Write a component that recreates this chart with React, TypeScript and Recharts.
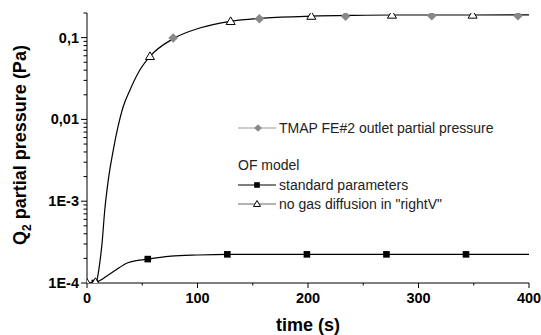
import { LineChart, Line, XAxis, YAxis } from 'recharts';

// time (s) and Q2 partial pressure (Pa)
const noDiffTime = [0, 7.6, 8.5, 11.5, 13.6, 16, 19, 23.6, 28, 32.6, 38.7, 47.7, 57, 78, 102, 130, 160, 203, 240, 276, 349, 400];
const noDiffValues = [1e-4, 1.02e-4, 1.04e-4, 1.74e-4, 3.05e-4, 7.6e-4, 1.71e-3, 4.1e-3, 8.1e-3, 0.0141, 0.0226, 0.0399, 0.059, 0.097, 0.131, 0.158, 0.173, 0.183, 0.187, 0.189, 0.189, 0.19];
const noDiffMarkers = [0, 7.6, 57, 130, 203, 276, 349];

const stdTime = [0, 7, 11.5, 18, 25, 37, 55, 76, 100, 127, 199, 271, 343, 400];
const stdValues = [1e-4, 1e-4, 1.07e-4, 1.22e-4, 1.41e-4, 1.77e-4, 1.96e-4, 2.13e-4, 2.2e-4, 2.24e-4, 2.24e-4, 2.24e-4, 2.24e-4, 2.24e-4];
const stdMarkers = [7, 55, 127, 199, 271, 343];

const tmapTime = [78, 156, 234, 312, 390];
const tmapValues = [0.099, 0.17, 0.183, 0.185, 0.185];

const xTicks = [0, 50, 100, 150, 200, 250, 300, 350, 400];
const yTicks = [
  1e-4, 2e-4, 3e-4, 4e-4, 5e-4, 6e-4, 7e-4, 8e-4, 9e-4,
  1e-3, 2e-3, 3e-3, 4e-3, 5e-3, 6e-3, 7e-3, 8e-3, 9e-3,
  0.01, 0.02, 0.03, 0.04, 0.05, 0.06, 0.07, 0.08, 0.09,
  0.1, 0.2,
];
const yLabels: Record<string, string> = { '-4': '1E-4', '-3': '1E-3', '-2': '0,01', '-1': '0,1' };

const noDiff = noDiffTime.map((t, i) => ({ t, v: noDiffValues[i], m: noDiffMarkers.includes(t) }));
const std = stdTime.map((t, i) => ({ t, v: stdValues[i], m: stdMarkers.includes(t) }));
const tmap = tmapTime.map((t, i) => ({ t, v: tmapValues[i], m: true }));

const FONT = 'Liberation Sans, Arial, sans-serif';

const XTick = (props: any) => {
  const { x, y, payload } = props;
  const major = payload.value % 100 === 0;
  return (
    <g>
      <line x1={x} x2={x} y1={y} y2={y + (major ? 5 : 2.5)} stroke="#000" />
      {major && (
        <text x={x} y={y + 20} textAnchor="middle" fontFamily={FONT} fontWeight="bold" fontSize={14.5} fill="#000">
          {payload.value}
        </text>
      )}
    </g>
  );
};

const YTick = (props: any) => {
  const { x, y, payload } = props;
  const lg = Math.log10(payload.value);
  const major = Math.abs(lg - Math.round(lg)) < 1e-6;
  return (
    <g>
      <line x1={x} x2={x - (major ? 6 : 3.5)} y1={y} y2={y} stroke="#000" />
      {major && (
        <text x={x - 8} y={y + 5} textAnchor="end" fontFamily={FONT} fontWeight="bold" fontSize={14.5} fill="#000">
          {yLabels[String(Math.round(lg))]}
        </text>
      )}
    </g>
  );
};

const Triangle = ({ cx, cy, r = 4.5 }: any) => (
  <path d={`M${cx},${cy - r}L${cx + r},${cy + r * 0.7}L${cx - r},${cy + r * 0.7}Z`} fill="#fff" stroke="#000" strokeWidth={1} />
);
const Square = ({ cx, cy, r = 3.3 }: any) => <rect x={cx - r} y={cy - r} width={2 * r} height={2 * r} fill="#000" />;
const Diamond = ({ cx, cy, r = 4.8 }: any) => (
  <path d={`M${cx},${cy - r}L${cx + r},${cy}L${cx},${cy + r}L${cx - r},${cy}Z`} fill="#888" />
);

const dotOf = (Shape: any) => (p: any) =>
  p.payload.m ? <Shape key={`d-${p.index}`} cx={p.cx} cy={p.cy} /> : <g key={`d-${p.index}`} />;

export default function App() {
  return (
    <div style={{ position: 'absolute', left: 0, top: 0, width: 541, height: 335, background: '#fff' }}>
      <LineChart width={541} height={335} margin={{ top: 13, right: 12, left: 0, bottom: 22 }}>
        <XAxis
          type="number"
          dataKey="t"
          domain={[0, 400]}
          ticks={xTicks}
          interval={0}
          tickSize={0}
          tickMargin={0}
          tickLine={false}
          tick={<XTick />}
          height={30}
          axisLine={{ stroke: '#000' }}
          allowDataOverflow
        />
        <YAxis
          type="number"
          scale="log"
          domain={[1e-4, 0.2]}
          ticks={yTicks}
          interval={0}
          tickSize={0}
          tickMargin={0}
          tickLine={false}
          tick={<YTick />}
          width={87}
          axisLine={{ stroke: '#000' }}
          allowDataOverflow
        />
        <Line data={std} dataKey="v" type="monotone" stroke="#000" strokeWidth={1.2} dot={dotOf(Square)} isAnimationActive={false} />
        <Line data={noDiff} dataKey="v" type="monotone" stroke="#000" strokeWidth={1.2} dot={dotOf(Triangle)} isAnimationActive={false} />
        <Line data={tmap} dataKey="v" type="monotone" stroke="none" dot={dotOf(Diamond)} isAnimationActive={false} />
      </LineChart>
      <svg width={541} height={335} style={{ position: 'absolute', left: 0, top: 0, pointerEvents: 'none' }}>
        <text
          transform="translate(26,145) rotate(-90)"
          textAnchor="middle"
          fontFamily={FONT}
          fontWeight="bold"
          fontSize={18}
          fill="#000"
        >
          Q<tspan fontSize={12} dy={5}>2</tspan>
          <tspan dy={-5}> partial pressure (Pa)</tspan>
        </text>
        <text x={308} y={331} textAnchor="middle" fontFamily={FONT} fontWeight="bold" fontSize={18} fill="#000">
          time (s)
        </text>
        <g fontFamily={FONT} fontSize={14} fill="#222">
          <line x1={238} x2={276} y1={128} y2={128} stroke="#999" strokeWidth={1.2} />
          <Diamond cx={258} cy={128} r={3.8} />
          <text x={279} y={133}>TMAP FE#2 outlet partial pressure</text>
          <text x={238} y={170}>OF model</text>
          <line x1={238} x2={276} y1={185} y2={185} stroke="#000" strokeWidth={1.2} />
          <Square cx={257} cy={185} r={2.8} />
          <text x={279} y={190}>standard parameters</text>
          <line x1={238} x2={276} y1={204} y2={204} stroke="#666" strokeWidth={1.2} />
          <Triangle cx={257} cy={204} r={3.5} />
          <text x={279} y={209}>no gas diffusion in "rightV"</text>
        </g>
      </svg>
    </div>
  );
}
